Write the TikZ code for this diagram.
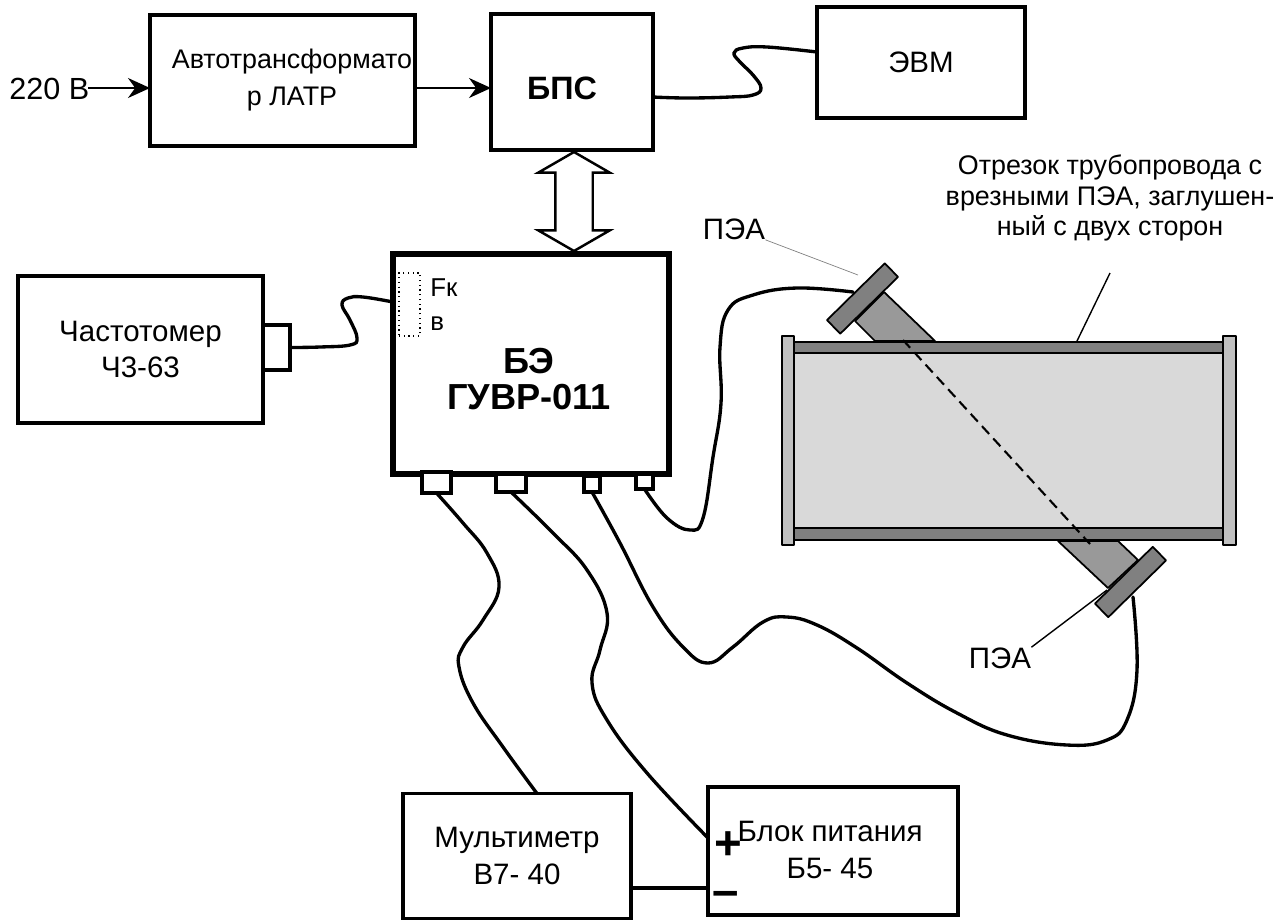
\documentclass[tikz,border=0pt]{standalone}
\usepackage{fontspec}
\setmainfont{Liberation Sans}
\usepackage{xcolor}
\usetikzlibrary{arrows.meta,shapes.arrows}
\definecolor{stemgray}{HTML}{999999}
\definecolor{wallgray}{HTML}{808080}
\definecolor{pipefill}{HTML}{D9D9D9}
\definecolor{endgray}{HTML}{C0C0C0}
\begin{document}
\begin{tikzpicture}[x=0.2mm, y=-0.2mm,
  box/.style={draw, fill=white, line width=2pt, inner sep=0pt, outer sep=0pt, align=center, font=\fontsize{16.8}{21}\selectfont},
  lbl/.style={inner sep=0pt, align=center, font=\fontsize{16.8}{21}\selectfont},
  note/.style={inner sep=0pt, align=center, font=\fontsize{15.3}{17.5}\selectfont},
  port/.style={draw, fill=white, line width=1.8pt, inner sep=0pt, outer sep=0pt},
  arr/.style={-{Stealth[length=4.4mm, width=4mm]}, line width=1pt},
  cable/.style={line width=1.9pt, line cap=round},
  part/.style={draw, line width=1pt, line join=round}]
\useasboundingbox (0,0) rectangle (1285,920);
% upper blocks
\node[box, minimum width=5.3cm, minimum height=2.62cm] (latr) at (282.5,80.5) {};
\node[lbl, font=\fontsize{15.3}{21}\selectfont] (latrtxt) at (292,80) {Автотрансформато\\р ЛАТР};
\node[box, minimum width=3.24cm, minimum height=2.72cm] (bps) at (572,82) {};
\node[lbl, font=\fontsize{18.4}{21}\selectfont\bfseries] (bpstxt) at (562,88) {БПС};
\node[box, minimum width=4.16cm, minimum height=2.22cm] (evm) at (921,62.5) {ЭВМ};
\node[lbl, anchor=west, font=\fontsize{17.4}{21}\selectfont] (mains) at (9,89) {220 В};
\coordinate (mainsend) at (88,88);
\draw[arr] (mainsend) -- (latr.west |- mainsend);
\draw[arr] (latr.east |- mainsend) -- (bps.west |- mainsend);
% main unit
\node[box, line width=3.2pt, minimum width=5.52cm, minimum height=4.4cm] (be) at (531,364) {};
\node[lbl, font=\fontsize{20.6}{21}\selectfont\bfseries] (betxt) at (529,379) {БЭ\\ГУВР-011};
\node[draw, dotted, line width=0.7pt, minimum width=0.42cm, minimum height=1.26cm, inner sep=0pt] (fkv) at (409.5,304.5) {};
\node[lbl, anchor=north west, align=left, font=\fontsize{14.7}{19.4}\selectfont] (fkvtxt) at (430,278) {Fк\\в};
\node[shape=double arrow, draw, fill=white, line width=1.4pt, rotate=90, inner xsep=0pt, inner ysep=0.35cm,
      minimum height=1.98cm, double arrow head extend=0.34cm,
      double arrow tip angle=120] (bus) at (574,201.5) {};
\node[box, minimum width=4.9cm, minimum height=2.94cm] (freq) at (140.5,349.5) {Частотомер\\Ч3-63};
\node[port, minimum width=0.54cm, minimum height=0.9cm] (freqport) at (276.5,347.5) {};
\node[port, minimum width=0.58cm, minimum height=0.42cm] (p1) at (436.5,482.5) {};
\node[port, minimum width=0.6cm, minimum height=0.36cm] (p2) at (511,483) {};
\node[port, minimum width=0.32cm, minimum height=0.32cm] (p3) at (592,484) {};
\node[port, minimum width=0.34cm, minimum height=0.3cm] (p4) at (644.5,481.5) {};
% lower blocks
\node[box, minimum width=4.56cm, minimum height=2.5cm] (mult) at (517,856) {Мультиметр\\В7- 40};
\node[box, minimum width=5cm, minimum height=2.56cm] (blok) at (833,851) {};
\node[lbl] (bloktxt) at (830,850) {Блок питания\\Б5- 45};
\node[inner sep=0pt, font=\fontsize{27}{27}\selectfont\bfseries] (plus) at (728,846) {+};
\node[inner sep=0pt, font=\fontsize{27}{27}\selectfont\bfseries] (minus) at (726,899) {–};
% pipe section
\draw[part, fill=stemgray] (855,321) -- (884,292) -- (935,341) -- (875,341) -- cycle;
\draw[part, fill=stemgray] (1058,541) -- (1118,541) -- (1138,560) -- (1108,588) -- cycle;
\node[draw, line width=1pt, fill=pipefill, minimum width=8.58cm, minimum height=3.5cm, inner sep=0pt] (pipe) at (1008.5,440.5) {};
\node[part, fill=wallgray, minimum width=8.58cm, minimum height=0.22cm, inner sep=0pt] (walltop) at (1008.5,347.5) {};
\node[part, fill=wallgray, minimum width=8.58cm, minimum height=0.24cm, inner sep=0pt] (wallbot) at (1008.5,534) {};
\node[part, fill=endgray, minimum width=0.24cm, minimum height=4.18cm, inner sep=0pt] (capl) at (788,440.5) {};
\node[part, fill=endgray, minimum width=0.26cm, minimum height=4.18cm, inner sep=0pt] (capr) at (1229.5,440.5) {};
\node[part, fill=wallgray, rotate=-45.5, minimum width=0.38cm, minimum height=1.62cm, inner sep=0pt] (peaup) at (862.5,298.5) {};
\node[part, fill=wallgray, rotate=-45.5, minimum width=0.38cm, minimum height=1.62cm, inner sep=0pt] (peadn) at (1130.5,582) {};
\draw[line width=1.2pt, dash pattern=on 6pt off 3.5pt] (903,340) -- (1090,544);
% labels
\node[note] (pipetxt) at (1110,198) {Отрезок трубопровода с\\врезными ПЭА, заглушен-\\ный с двух сторон};
\node[lbl] (peauptxt) at (734,229) {ПЭА};
\node[lbl] (peadntxt) at (1000,658) {ПЭА};
\coordinate (pipeleader) at (1110,273);
\coordinate (peauplead) at (858,275);
\coordinate (peadnlead) at (1107,590);
\draw[line width=0.8pt] (pipeleader) -- (1077,341);
\draw[line width=0.4pt, gray] (peauptxt.south east) -- (peauplead);
\draw[line width=0.8pt] (peadntxt.north east) -- (peadnlead);
% cables
\draw[cable] plot[smooth, tension=0.7] coordinates {(bps.east |- 0,97) (687,98) (730,97) (753,95) (761,88) (753,75) (740,62) (734,53) (743,48) (767,47) (evm.west |- 0,52)};
\draw[cable] plot[smooth, tension=0.7] coordinates {(freqport.east) (320,347) (350,345) (357,338) (350,320) (342,305) (348,298) (363,297) (be.west |- 0,302)};
\draw[cable] plot[smooth, tension=0.7] coordinates {(p4.south) (667,518) (690,530) (703,518) (713,457) (721,403) (720,347) (728,310) (753,295) (797,288) (853,292)};
\draw[cable] plot[smooth, tension=0.7] coordinates {(p3.south) (620,543) (653,607) (683,647) (708,663) (733,647) (763,622) (787,617) (817,625) (857,648) (907,683) (957,713) (1007,735) (1067,745) (1107,740) (1127,720) (1137,670) (1133,597)};
\draw[cable] plot[smooth, tension=0.7] coordinates {(p2.south) (553,533) (587,570) (607,613) (600,650) (592,683) (607,720) (647,773) (blok.west |- 0,838)};
\draw[cable] plot[smooth, tension=0.7] coordinates {(p1.south) (463,523) (487,553) (499,587) (483,620) (463,647) (459,667) (473,703) (503,747) (mult.north -| 537,0)};
\draw[cable] (mult.east |- 0,888) -- (blok.west |- 0,888);
\end{tikzpicture}
\end{document}
